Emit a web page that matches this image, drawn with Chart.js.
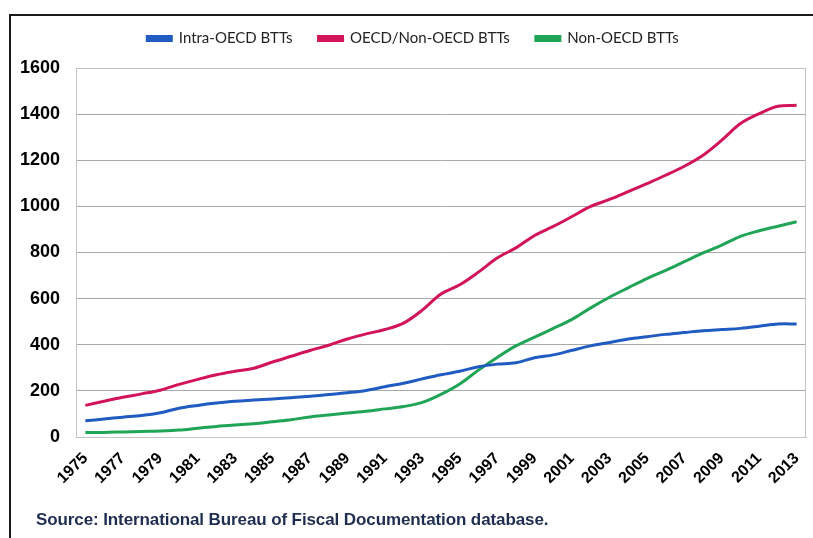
<!DOCTYPE html>
<html lang="en">
<head>
  <meta charset="UTF-8" />
  <title>BTTs 1975-2013</title>
  <script src="https://cdn.jsdelivr.net/npm/chart.js"></script>
  <style>
    body { margin: 0; background: #fff; width: 813px; height: 538px; overflow: hidden; position: relative; font-family: "Liberation Sans", Arial, sans-serif; }
    #frame { position: absolute; left: 9px; top: 14px; width: 820px; height: 540px; border: 2px solid #1a1a1a; box-sizing: border-box; }
    #wrap { position: absolute; left: 0; top: 0; width: 813px; height: 538px; }
    #source { position: absolute; left: 36px; top: 510px; font: bold 17px "Liberation Sans", Arial, sans-serif; letter-spacing: -0.1px; color: #1e2d50; white-space: nowrap; }
  </style>
</head>
<body>
  <div id="frame"></div>
  <div id="wrap"><canvas id="chart"></canvas></div>
  <div id="source">Source: International Bureau of Fiscal Documentation database.</div>

  <script>
    const years = [];
    for (let y = 1975; y <= 2013; y++) years.push(String(y));

    const intraOecd = [70, 78, 86, 93, 105, 125, 137, 147, 155, 160,
      165, 170, 177, 184, 192, 202, 218, 233, 252, 270,
      285, 305, 316, 322, 344, 356, 376, 395, 410, 425,
      435, 445, 453, 461, 466, 471, 480, 490, 490];

    const oecdNonOecd = [137, 155, 172, 187, 203, 228, 250, 270, 285, 298,
      325, 350, 375, 398, 425, 447, 466, 494, 550, 620,
      660, 715, 776, 820, 874, 913, 956, 1000, 1030, 1064,
      1099, 1135, 1174, 1222, 1287, 1359, 1402, 1434, 1438];

    const nonOecd = [20, 20, 22, 24, 26, 30, 38, 46, 52, 57,
      66, 75, 87, 95, 104, 112, 122, 132, 150, 185,
      230, 290, 345, 395, 433, 471, 510, 560, 606, 647,
      687, 723, 760, 798, 832, 870, 894, 914, 933];

    const yTicks = [0, 200, 400, 600, 800, 1000, 1200, 1400, 1600];

    // light grey frame round the plot area, like the Excel original
    const plotBorder = {
      id: 'plotBorder',
      afterDraw(chart) {
        const { ctx, chartArea: a } = chart;
        ctx.save();
        ctx.strokeStyle = '#c4c4c4';
        ctx.lineWidth = 1;
        ctx.strokeRect(a.left + 0.5, a.top + 0.5, a.right - a.left - 1, a.bottom - a.top);
        ctx.restore();
      }
    };

    const line = (label, data, color) => ({
      label, data,
      borderColor: color,
      backgroundColor: color,
      borderWidth: 3,
      pointRadius: 0,
      tension: 0.35,
      fill: false
    });

    new Chart(document.getElementById('chart'), {
      type: 'line',
      data: {
        labels: years,
        datasets: [
          line('Intra-OECD BTTs', intraOecd, '#1f5bc0'),
          line('OECD/Non-OECD BTTs', oecdNonOecd, '#d2145a'),
          line('Non-OECD BTTs', nonOecd, '#20a456')
        ]
      },
      options: {
        responsive: true,
        maintainAspectRatio: false,
        animation: false,
        layout: { padding: { top: 5, right: 7, left: 20, bottom: 0 } },
        plugins: {
          legend: {
            position: 'top',
            labels: {
              boxWidth: 24,
              boxHeight: 4,
              padding: 26,
              color: '#222',
              font: { family: 'Lato, "Liberation Sans", sans-serif', size: 15 }
            }
          },
          // empty title used only as a spacer between legend and plot
          title: {
            display: true,
            text: '',
            weight: 500,
            padding: { top: 2, bottom: 0 },
            font: { size: 10, lineHeight: 1 }
          },
          tooltip: { enabled: false }
        },
        scales: {
          x: {
            offset: true,
            grid: { display: false, drawTicks: false },
            border: { color: '#c4c4c4' },
            afterFit(scale) {
              scale.height = 101;
              scale.paddingLeft = 0;
              scale.paddingRight = 0;
            },
            ticks: {
              autoSkip: false,
              maxRotation: 45,
              minRotation: 45,
              padding: 12,
              color: '#000',
              font: { family: '"Liberation Sans", Arial, sans-serif', size: 16, weight: 'bold' },
              callback(val, i) { return i % 2 === 0 ? years[i] : ''; }
            }
          },
          y: {
            min: 0,
            max: 1600,
            afterFit(scale) { scale.width = 56; },
            afterBuildTicks(scale) { scale.ticks = yTicks.map(v => ({ value: v })); },
            grid: { color: '#a8a8a8', drawTicks: false },
            border: { color: '#c4c4c4' },
            ticks: {
              padding: 16,
              color: '#000',
              font: { family: '"Liberation Sans", Arial, sans-serif', size: 18, weight: 'bold' },
              callback(val) { return String(val); }
            }
          }
        }
      },
      plugins: [plotBorder]
    });
  </script>
</body>
</html>
